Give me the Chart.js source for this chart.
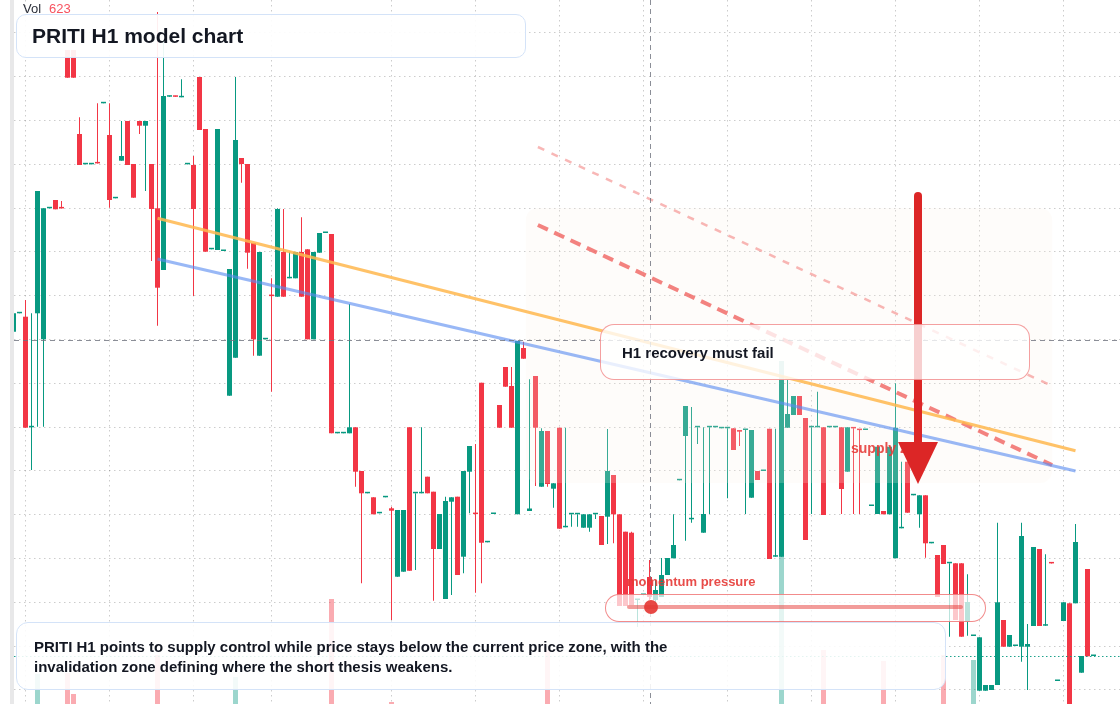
<!DOCTYPE html>
<html>
<head>
<meta charset="utf-8">
<script src="https://cdn.jsdelivr.net/npm/chart.js@4.4.1/dist/chart.umd.min.js"></script>
<style>
html,body{margin:0;padding:0;background:#fff;}
#wrap{position:relative;width:1120px;height:704px;overflow:hidden;background:#fff;font-family:"Liberation Sans",Arial,Helvetica,sans-serif;}
#strip{position:absolute;left:10px;top:0;width:4px;height:704px;background:#e8e8e9;}
#cv{position:absolute;left:14px;top:0;z-index:1;}
#arrow{position:absolute;left:0;top:0;width:1120px;height:704px;z-index:3;pointer-events:none;}
.box{position:absolute;box-sizing:border-box;z-index:4;}
#vol{position:absolute;left:23px;top:1px;font-size:13px;line-height:15px;color:#2a2e39;z-index:5;}
#vol span{color:#f7525f;margin-left:8px;}
#title{left:16px;top:14px;width:510px;height:44px;border:1.5px solid #d4e3f8;border-radius:10px;background:rgba(255,255,255,0.92);padding-left:15px;font-weight:bold;font-size:21px;line-height:41px;color:#131722;}
#summary{left:16px;top:622px;width:930px;height:68px;border:1.5px solid #d4e3f8;border-radius:12px;background:rgba(255,255,255,0.88);padding:14px 0 0 17px;font-weight:bold;font-size:15px;line-height:20px;color:#131722;}
#recovery{left:600px;top:324px;width:430px;height:56px;border:1.5px solid rgba(236,96,96,0.6);border-radius:14px;background:rgba(255,255,255,0.78);padding-left:21px;font-weight:bold;font-size:15px;line-height:56px;color:#131722;}
#momentum{left:605px;top:594px;width:381px;height:28px;border:1.5px solid rgba(236,90,90,0.7);border-radius:14px;background:rgba(255,255,255,0.72);}
#mline{position:absolute;left:21px;top:10px;width:336px;height:4px;border-radius:2px;background:rgba(229,57,53,0.5);}
#mdot{position:absolute;width:14px;height:14px;border-radius:50%;background:rgba(229,57,53,0.92);top:5px;}
#mlabel{position:absolute;left:627px;top:574px;font-weight:bold;font-size:13px;line-height:16px;color:rgba(229,57,53,0.9);z-index:4;}
#zlabel{position:absolute;left:851px;top:440px;font-weight:bold;font-size:14px;line-height:16px;color:rgba(229,57,53,0.88);z-index:2;}
</style>
</head>
<body>
<div id="wrap">
  <div id="strip"></div>
  <canvas id="cv" width="1106" height="704"></canvas>
  <div id="zlabel">supply zone</div>
  <svg id="arrow" width="1120" height="704"></svg>
  <div id="vol">Vol<span id="volv"></span></div>
  <div class="box" id="title">PRITI H1 model chart</div>
  <div class="box" id="recovery">H1 recovery must fail</div>
  <div id="mlabel">momentum pressure</div>
  <div class="box" id="momentum"><div id="mline"></div><div id="mdot"></div></div>
  <div class="box" id="summary">PRITI H1 points to supply control while price stays below the current price zone, with the<br>invalidation zone defining where the short thesis weakens.</div>
</div>
<script>
// ---------- data (H1 candles, price units) ----------
const open = [66.83,68.67,68.33,57.27,68.67,66.07,79.17,80,79.17,95,95,86.6,83.57,83.57,83.67,89.67,86.5,80.17,83.93,87.9,
83.6,87.9,87.43,83.6,79.17,73,90.33,90.33,90.27,83.57,83.5,92.3,87.1,75.07,75,74.9,60.43,64.23,84.2,83.6,
75.7,64.43,66.07,70.4,70.33,74.8,72.17,72.17,74.8,75.07,66.07,74.73,76.7,76.6,56.67,56.67,56.67,57.27,52.9,50.67,
50.27,48.67,50.27,49.17,42.33,42.83,57.27,50.67,50.67,52.33,50.83,45.1,40.1,49.83,50.33,44.33,52.83,48.6,61.73,45.77,
48.6,59.5,63.3,61.4,48.57,65.2,48.9,62.4,51.33,56.9,51.13,57.23,47.27,48.57,48.57,47.23,47.23,48.57,48.4,48.33,
52.5,48.57,46.83,46.73,40,40.5,42.3,40,40.3,42.5,44.17,51.97,56.4,48.07,57.27,46.73,57.27,57.27,57.17,57.17,
57.17,57,57,50.23,52.9,52.9,57.13,44.33,44.33,57.23,58.5,60.4,58.2,57.27,57.27,57.27,57.27,57.27,57.27,52.83,
57.17,57,57,49.4,48.6,48.9,48.57,44.17,47.17,53.83,50.47,48.57,50.47,45.67,44.5,45.5,43.67,43.67,43.67,37.83,
36.4,30.93,30.93,31,31.5,38,35.33,35.4,35.33,35.33,37.4,45.1,37.43,43.67,31.9,37.9,39.67,39.67,32.73,43.1,
34.4];
const high = [68.67,68.67,70,68.67,80.9,79.17,79.17,80,79.9,95,95,88.27,83.57,83.57,89.67,89.67,89.67,80.17,87.9,87.9,
83.6,87.9,87.9,83.6,98.8,96,90.33,90.33,92.07,83.57,84.4,92.3,87.1,75.07,87.1,74.9,73.1,92.3,84.2,83.6,
75.7,74.8,66.07,72.17,79.17,79.1,74.8,74.8,78.27,75.07,74.8,76.7,76.7,76.6,56.67,56.67,69.6,57.27,52.9,50.67,
50.27,48.67,50.27,49.33,49,49,57.27,50.67,57.27,52.33,50.83,48.6,50.33,50.27,50.33,52.9,55.4,55.6,61.73,45.77,
48.6,59.5,63.3,63.3,65.9,65.83,62.07,62.4,57.17,56.9,51.67,57.23,57.23,48.57,48.57,48.57,48.57,48.57,48.4,57.1,
52.5,48.57,46.83,46.83,40,40.5,44,42,44.2,44.2,48.57,51.97,59.4,59.3,57.27,57.27,57.27,57.27,57.17,57.17,
57.17,57,57,57,52.9,52.9,57.13,57.13,62,62,60.4,60.4,58.2,57.27,60.83,57.27,57.27,57.27,57.27,57.27,
57.17,57,57,49.4,55.33,48.9,55.33,61.67,53.83,53.83,50.47,50.47,50.47,45.67,44.5,45.5,43.67,43.67,43.67,42.57,
36.4,36.27,31.5,31.5,47.73,38,36.5,35.4,47.73,37.6,45.3,45.1,44.57,43.67,31.9,39.77,39.67,47.6,34.4,43.1,
34.4];
const low = [66.83,68.67,57.23,53,57.33,57.33,79.17,79.07,79.16,92.23,92.23,83.5,83.57,83.57,83.66,89.67,79.23,80.17,83.93,83.5,
80.23,86.6,80.9,73.9,67.43,73,90.33,90.32,90.27,83.57,70.4,87,74.83,75.07,75,74.9,60.43,64.23,81.73,73.13,
64.43,64.43,66.07,60.83,70.33,70.33,72.17,72.17,70.33,66.07,66.07,74.73,76.7,56.67,56.67,56.67,56.67,51.33,41.67,50.67,
48.57,48.67,50.27,38,42.33,42.83,42.93,43,50.67,50.67,39.93,45.1,40.1,40.5,42.5,42.67,48.67,40.73,41.67,45.77,
48.6,57.23,61.33,57.23,48.57,64.13,48.9,51.4,51.33,51.33,49.23,47.13,47.27,47.33,47.33,47.23,46.83,48.1,45.5,45.6,
45.67,39.4,39.4,39.5,37.3,40.5,40,39.5,40.3,42.5,44.17,51.97,45.93,47.73,55.6,46.73,48.6,57.27,57.17,50.17,
55,55.4,48.6,50.23,52,52.9,44.1,44.33,44.33,57.23,58.5,58.5,46,48.6,57.27,48.5,57.27,57.27,48.6,52.83,
48.6,48.6,57,49.4,48.6,48.57,48.57,44.17,47.17,48.73,50.47,47.23,44.23,45.67,40.3,43.6,36.33,38,36.33,36.43,
36.4,30.93,30.93,31,31.5,35.33,35.33,35.4,33.83,31,37.4,37.4,37.43,43.66,31.9,37.9,28.8,39.67,32.73,34.37,
34.4];
const close = [68.67,68.67,57.23,57.27,80.9,79.17,79.17,79.07,79.16,92.23,92.23,83.5,83.57,83.57,83.66,89.67,80,80.17,84.4,83.5,
80.23,87.43,87.9,79.1,71.23,90.4,90.33,90.32,90.27,83.57,79.1,87,74.83,75.07,87.1,74.9,73.1,86,83.6,74.73,
66.07,74.8,66.07,70.39,79.1,70.33,72.17,74.8,70.33,66.07,74.8,76.7,76.7,56.67,56.67,56.67,57.27,52.83,50.67,50.67,
48.57,48.67,50.27,48.93,49,49,42.93,50.67,50.67,50.67,45.1,48.6,49.9,50.27,42.5,52.9,55.4,48.59,45.73,45.77,
48.6,57.23,61.33,57.23,65.9,64.13,49.15,57.23,56.9,51.6,51.67,47.13,47.27,48.57,48.57,48.57,48.57,48.57,45.5,52.9,
48.57,39.4,39.4,39.5,40,40.5,40.3,41,42.5,44.2,45.5,51.97,59.4,48.07,57.27,48.6,57.27,57.27,57.17,57.17,
55,56.83,57,57,52,52.9,44.1,44.33,62,58.6,60.4,58.5,46,57.27,57.27,48.5,57.27,57.27,51.1,57.27,
57.16,56.99,57,49.4,55.33,48.57,55.33,57.23,47.17,48.73,50.47,50.47,45.67,45.67,40.3,43.6,43.67,38,36.33,39.8,
36.4,36.27,31.5,31.5,39.77,35.33,36.5,35.4,46.4,35.6,45.3,37.4,37.43,43.66,31.9,39.77,28.8,45.8,34.4,34.37,
34.4];
const volume = [0,0,0,0,1500,0,0,0,0,1550,500,0,0,0,0,0,0,0,0,0,
0,0,0,0,2450,0,0,0,0,0,0,0,0,0,0,0,0,1350,0,0,
0,0,0,0,0,0,0,0,0,0,0,0,0,5250,0,0,0,0,0,0,
0,0,0,100,0,0,0,0,0,0,0,0,0,0,0,0,0,0,0,0,
0,0,0,0,0,0,0,0,0,2700,0,0,0,0,0,0,0,0,0,0,
0,0,0,0,0,0,0,0,0,0,0,0,0,0,0,0,0,0,0,0,
0,0,0,0,0,0,0,0,17150,0,0,0,0,0,0,2700,0,0,0,0,
0,0,0,0,0,2150,0,0,0,0,0,0,0,0,0,2450,0,0,0,0,
2200,0,0,0,0,0,0,0,0,0,0,0,0,0,0,0,0,0,0,0,
0];
const lastVolume = 623;
// grid (time session boundaries by bar index, price levels)
const timeGridBars = [2,16,30,43,63,77,91,105,119,133,147,161,175];
const priceGridLevels = [96.71,92.33,87.95,83.57,79.19,74.81,70.43,66.05,61.67,57.29,52.91,48.53,44.15,39.77,35.39,31.01];
// drawn analysis objects (bar index, price)
const trendOrange = [{x:24,y:78.17},{x:177,y:54.93}];
const trendBlue = [{x:24,y:74.1},{x:177,y:52.9}];
const channelUpper = [{x:87.4,y:85.3},{x:173.1,y:61.4}];
const channelLower = [{x:87.4,y:77.5},{x:173.1,y:53.5}];
const supplyZone = {from:85.4,to:173.1,top:79.2,bottom:51.7};
const arrowBar = 150.75, arrowStart = 80.4, arrowHead = 55.8, arrowTip = 51.6;
const crossBar = 106, crossPrice = 66.05;
const momentumLevel = 0.07;

// ---------- chart ----------
document.getElementById('volv').textContent = lastVolume;
document.getElementById('mdot').style.left = (21 + 336*momentumLevel - 7) + 'px';

const TEAL = '#089981', RED = '#f23645';
const bars = open.map((_, i) => i);
const isUp = i => close[i] >= open[i];
const candleColor = ctx => isUp(ctx.dataIndex) ? TEAL : RED;

const overlay = {
  id: 'overlay',
  afterDatasetDraw(chart, args) {
    if (args.index !== 2) return;
    const {ctx, scales: {x, y}} = chart;
    const l = x.getPixelForValue(supplyZone.from), r = x.getPixelForValue(supplyZone.to);
    const t = y.getPixelForValue(supplyZone.top), b = y.getPixelForValue(supplyZone.bottom);
    ctx.save();
    ctx.fillStyle = 'rgba(252,238,230,0.2)';
    ctx.beginPath();
    ctx.roundRect(l, t, r - l, b - t, 12);
    ctx.fill();
    ctx.restore();
  },
  afterDatasetsDraw(chart) {
    const {ctx, chartArea: a, scales: {x, y}} = chart;
    ctx.save();
    const lp = y.getPixelForValue(close[close.length - 1]);
    ctx.strokeStyle = 'rgba(8,153,129,0.9)';
    ctx.lineWidth = 1;
    ctx.setLineDash([1.5, 2.5]);
    ctx.beginPath(); ctx.moveTo(a.left, Math.round(lp) + 0.5); ctx.lineTo(a.right, Math.round(lp) + 0.5); ctx.stroke();
    ctx.strokeStyle = 'rgba(110,114,125,0.8)';
    ctx.setLineDash([5, 4]);
    const cx = Math.round(x.getPixelForValue(crossBar)) + 0.5;
    const cy = Math.round(y.getPixelForValue(crossPrice)) + 0.5;
    ctx.beginPath(); ctx.moveTo(cx, a.top); ctx.lineTo(cx, a.bottom); ctx.stroke();
    ctx.beginPath(); ctx.moveTo(a.left, cy); ctx.lineTo(a.right, cy); ctx.stroke();
    ctx.restore();
  }
};

const chart = new Chart(document.getElementById('cv'), {
  data: {
    datasets: [
      {type:'bar', label:'volume', yAxisID:'yv', data: bars.map(i => ({x:i, y:volume[i]})),
       backgroundColor: ctx => isUp(ctx.dataIndex) ? 'rgba(8,153,129,0.4)' : 'rgba(242,54,69,0.42)',
       barThickness:5, grouped:false, inflateAmount:0, order:10},
      {type:'bar', label:'wick', yAxisID:'y', data: bars.map(i => ({x:i, y:[low[i], high[i]]})),
       backgroundColor: candleColor, barThickness:1, minBarLength:1, grouped:false, inflateAmount:0, order:5},
      {type:'bar', label:'body', yAxisID:'y', data: bars.map(i => ({x:i, y:[open[i], close[i]]})),
       backgroundColor: candleColor, barThickness:5, minBarLength:1.5, grouped:false, inflateAmount:0, order:4},
      {type:'line', label:'upper channel', yAxisID:'y', data: channelUpper, borderColor:'rgba(239,83,80,0.42)',
       borderWidth:2.5, borderDash:[7,8], pointRadius:0, order:3},
      {type:'line', label:'lower channel', yAxisID:'y', data: channelLower, borderColor:'rgba(239,83,80,0.72)',
       borderWidth:4, borderDash:[11,7], pointRadius:0, order:2},
      {type:'line', label:'trend orange', yAxisID:'y', data: trendOrange, borderColor:'rgba(255,183,77,0.85)',
       borderWidth:3, pointRadius:0, order:1},
      {type:'line', label:'trend blue', yAxisID:'y', data: trendBlue, borderColor:'rgba(90,140,240,0.62)',
       borderWidth:3, pointRadius:0, order:1}
    ]
  },
  options: {
    responsive:false, animation:false, events:[],
    layout:{padding:0},
    plugins:{legend:{display:false}, tooltip:{enabled:false}},
    scales: {
      x: {type:'linear', min:1/12, max:2213/12, offset:false, bounds:'data',
          ticks:{display:false}, border:{display:false, dash:[1.5,3.5]},
          grid:{offset:false, drawTicks:false, color:'rgba(0,0,0,0.2)', lineWidth:1},
          afterBuildTicks: s => { s.ticks = timeGridBars.map(v => ({value:v})); }},
      y: {type:'linear', min:29.6, max:100, bounds:'data',
          ticks:{display:false}, border:{display:false, dash:[1.5,3.5]},
          grid:{drawTicks:false, color:'rgba(0,0,0,0.2)', lineWidth:1},
          afterBuildTicks: s => { s.ticks = priceGridLevels.map(v => ({value:v})); }},
      yv: {type:'linear', display:false, min:0, max:35200}
    }
  },
  plugins:[overlay]
});

// arrow annotation placed from the chart's scales
(function(){
  const cv = document.getElementById('cv');
  const xs = chart.scales.x, ys = chart.scales.y;
  const ax = xs.getPixelForValue(arrowBar) + cv.offsetLeft;
  const y0 = ys.getPixelForValue(arrowStart), y1 = ys.getPixelForValue(arrowHead), y2 = ys.getPixelForValue(arrowTip);
  document.getElementById('arrow').innerHTML =
    '<line x1="'+ax+'" y1="'+y0+'" x2="'+ax+'" y2="'+(y1+2)+'" stroke="#dc2626" stroke-width="8" stroke-linecap="round"/>' +
    '<polygon points="'+(ax-20)+','+y1+' '+(ax+20)+','+y1+' '+ax+','+y2+'" fill="#dc2626"/>';
})();
</script>
</body>
</html>
